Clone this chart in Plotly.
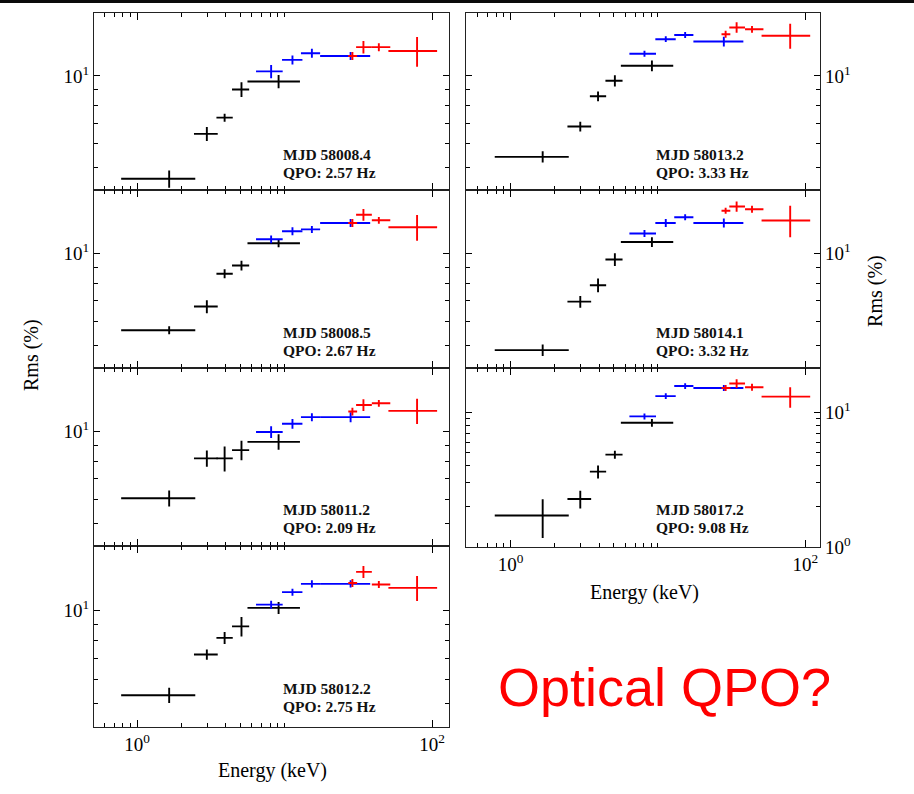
import plotly.graph_objects as go

W, H = 914, 794

# ---------------- data ----------------
MJD = ["58008.4", "58008.5", "58011.2", "58012.2", "58013.2", "58014.1", "58017.2"]
QPO = ["2.57", "2.67", "2.09", "2.75", "3.33", "3.32", "9.08"]

# energy bins (keV): centres and bin edges, same for every panel
E_LE = [1.65, 2.97, 3.92, 5.1, 9.1]
E_LE_LO = [0.78, 2.43, 3.45, 4.4, 5.6]
E_LE_HI = [2.48, 3.52, 4.45, 5.75, 12.7]

E_ME = [8.1, 11.3, 15.3, 28.0]
E_ME_LO = [6.4, 9.6, 12.9, 17.4]
E_ME_HI = [9.7, 13.2, 17.4, 38.0]

E_HE = [28.8, 34.2, 43.5, 79.0]
E_HE_LO = [27.0, 30.5, 39.0, 50.5]
E_HE_HI = [31.0, 39.0, 52.0, 108.0]

# fractional rms (%) per panel: left column top->bottom, then right column top->bottom
RMS_LE = [
    [4.60, 6.46, 7.30, 9.03, 9.59],
    [5.60, 6.70, 8.58, 9.13, 10.8],
    [6.05, 8.16, 8.16, 8.68, 9.24],
    [5.33, 7.21, 8.16, 8.89, 10.2],
    [5.43, 6.83, 8.58, 9.64, 10.8],
    [4.82, 6.95, 7.87, 9.55, 10.9],
    [1.72, 2.28, 3.63, 4.85, 8.35],
]
RMS_LE_ERR = [
    [0.30, 0.34, 0.22, 0.50, 0.48],
    [0.17, 0.33, 0.29, 0.34, 0.32],
    [0.36, 0.50, 0.76, 0.63, 0.54],
    [0.30, 0.27, 0.36, 0.64, 0.45],
    [0.23, 0.25, 0.32, 0.41, 0.44],
    [0.21, 0.31, 0.41, 0.46, 0.40],
    [0.55, 0.34, 0.40, 0.33, 0.56],
]
RMS_ME = [
    [10.35, 11.29, 11.87, 11.63],
    [11.13, 11.83, 11.99, 12.59],
    [9.95, 10.58, 11.12, 11.12],
    [10.45, 11.46, 12.19, 12.19],
    [11.83, 13.20, 13.63, 12.97],
    [11.63, 12.59, 13.15, 12.59],
    [9.30, 13.15, 15.60, 15.10],
]
RMS_ME_ERR = [
    [0.52, 0.38, 0.40, 0.35],
    [0.33, 0.35, 0.31, 0.37],
    [0.44, 0.39, 0.33, 0.41],
    [0.31, 0.30, 0.32, 0.32],
    [0.26, 0.29, 0.30, 0.48],
    [0.30, 0.37, 0.29, 0.42],
    [0.47, 0.66, 0.79, 0.76],
]
RMS_HE = [
    [11.63, 12.43, 12.43, 12.07],
    [12.59, 13.40, 12.85, 12.19],
    [11.60, 12.19, 12.34, 11.66],
    [12.27, 13.32, 12.13, 11.83],
    [13.70, 14.42, 14.22, 13.55],
    [13.80, 14.25, 13.97, 12.82],
    [15.10, 16.30, 15.30, 13.02],
]
RMS_HE_ERR = [
    [0.35, 0.58, 0.37, 1.35],
    [0.37, 0.60, 0.33, 1.18],
    [0.34, 0.54, 0.32, 1.10],
    [0.36, 0.59, 0.32, 1.10],
    [0.36, 0.57, 0.37, 1.28],
    [0.31, 0.56, 0.36, 1.52],
    [0.76, 1.23, 0.90, 2.25],
]

X_MAJOR = [1, 100]
X_MAJOR_TEXT = ["10<sup>0</sup>", "10<sup>2</sup>"]
X_MINOR = [0.6, 0.7, 0.8, 0.9, 2, 3, 4, 5, 6, 7, 8, 9, 10]
Y_MINOR = [2, 3, 4, 5, 6, 7, 8, 9]

# ---------------- layout geometry (pixels) ----------------
LEFT_X = (94, 449)
RIGHT_X = (466, 820)
PANELS = [  # (x-span, top, bottom, column, bottom-row?)
    (LEFT_X, 13, 193, "L", False),
    (LEFT_X, 193, 373, "L", False),
    (LEFT_X, 373, 554, "L", False),
    (LEFT_X, 554, 737, "L", True),
    (RIGHT_X, 13, 193, "R", False),
    (RIGHT_X, 193, 373, "R", False),
    (RIGHT_X, 373, 555, "R", True),
]


def px(x):
    return x / W


def py(y):
    return 1 - y / H


SERIF = "Liberation Serif, Times New Roman, serif"
COLORS = ["black", "#0000ff", "#ff0000"]

fig = go.Figure()
layout = dict(
    width=W, height=H, margin=dict(l=0, r=0, t=0, b=0),
    paper_bgcolor="white", plot_bgcolor="white", showlegend=False,
    annotations=[], shapes=[],
)

for i, (xs, top, bot, col, is_bottom) in enumerate(PANELS):
    n = i + 1
    xa = "x" if n == 1 else f"x{n}"
    ya = "y" if n == 1 else f"y{n}"
    series = [
        (E_LE, E_LE_LO, E_LE_HI, RMS_LE[i], RMS_LE_ERR[i]),
        (E_ME, E_ME_LO, E_ME_HI, RMS_ME[i], RMS_ME_ERR[i]),
        (E_HE, E_HE_LO, E_HE_HI, RMS_HE[i], RMS_HE_ERR[i]),
    ]
    for (e, lo, hi, r, re), c in zip(series, COLORS):
        fig.add_trace(go.Scatter(
            x=e, y=r, mode="markers", xaxis=xa, yaxis=ya,
            marker=dict(size=1, color=c),
            error_x=dict(type="data", symmetric=False,
                         array=[h - v for h, v in zip(hi, e)],
                         arrayminus=[v - l for v, l in zip(e, lo)],
                         color=c, thickness=1.9, width=0),
            error_y=dict(type="data", array=re, color=c, thickness=1.9, width=0),
        ))

    if col == "L":
        xr = [-0.292, 2.114]
    else:
        xr = [-0.303, 2.100]
    if i == 6:
        yr = [0.0, 1.328]
        ytv, ytt = [1, 10], ["10<sup>0</sup>", "10<sup>1</sup>"]
    else:
        yr = [0.625, 1.207]
        ytv, ytt = [10], ["10<sup>1</sup>"]

    xkey = "xaxis" if n == 1 else f"xaxis{n}"
    ykey = "yaxis" if n == 1 else f"yaxis{n}"
    layout[xkey] = dict(
        domain=[px(xs[0]), px(xs[1])], anchor=ya, type="log", range=xr,
        showline=True, linecolor="#222222", linewidth=1.2, mirror="allticks",
        ticks="inside", ticklen=7, tickwidth=1.3, tickcolor="black",
        tickmode="array", tickvals=X_MAJOR, ticktext=X_MAJOR_TEXT,
        showticklabels=is_bottom,
        tickfont=dict(family=SERIF, size=19, color="black"),
        minor=dict(tickmode="array", tickvals=X_MINOR, ticks="inside",
                   ticklen=4, tickwidth=1.3, tickcolor="black", showgrid=False),
        showgrid=False, zeroline=False, fixedrange=True,
    )
    layout[ykey] = dict(
        domain=[py(bot), py(top)], anchor=xa, type="log", range=yr,
        side="left" if col == "L" else "right",
        showline=True, linecolor="#222222", linewidth=1.2, mirror="allticks",
        ticks="inside", ticklen=6, tickwidth=1.3, tickcolor="black",
        tickmode="array", tickvals=ytv, ticktext=ytt,
        tickfont=dict(family=SERIF, size=19, color="black"),
        minor=dict(tickmode="array", tickvals=Y_MINOR, ticks="inside",
                   ticklen=4, tickwidth=1.3, tickcolor="black", showgrid=False),
        showgrid=False, zeroline=False, fixedrange=True,
    )

    tx = 281 if col == "L" else 654
    for k, txt in enumerate([f"MJD {MJD[i]}", f"QPO: {QPO[i]} Hz"]):
        layout["annotations"].append(dict(
            text=f"<b>{txt}</b>", xref="paper", yref="paper",
            x=px(tx), y=py(top + 144 + 18 * k),
            xanchor="left", yanchor="middle", showarrow=False,
            font=dict(family=SERIF, size=15.5, color="#111111"),
        ))

# axis titles
for (x, y, txt, ang) in [
    (272, 781, "Energy (keV)", 0),
    (644, 601, "Energy (keV)", 0),
    (31, 360, "Rms (%)", -90),
    (876, 295, "Rms (%)", -90),
]:
    layout["annotations"].append(dict(
        text=txt, xref="paper", yref="paper", x=px(x), y=py(y),
        xanchor="center", yanchor="middle", showarrow=False, textangle=ang,
        font=dict(family=SERIF, size=20, color="black"),
    ))

layout["annotations"].append(dict(
    text="Optical QPO?", xref="paper", yref="paper", x=px(664), y=py(697),
    xanchor="center", yanchor="middle", showarrow=False,
    font=dict(family="Liberation Sans, Arial, sans-serif", size=54, color="#ff0000"),
))

layout["shapes"].append(dict(
    type="rect", xref="paper", yref="paper", x0=0, x1=1, y0=py(3), y1=1,
    fillcolor="#0a0a0a", line=dict(width=0), layer="above",
))

fig.update_layout(**layout)
fig.write_html("out.html")
